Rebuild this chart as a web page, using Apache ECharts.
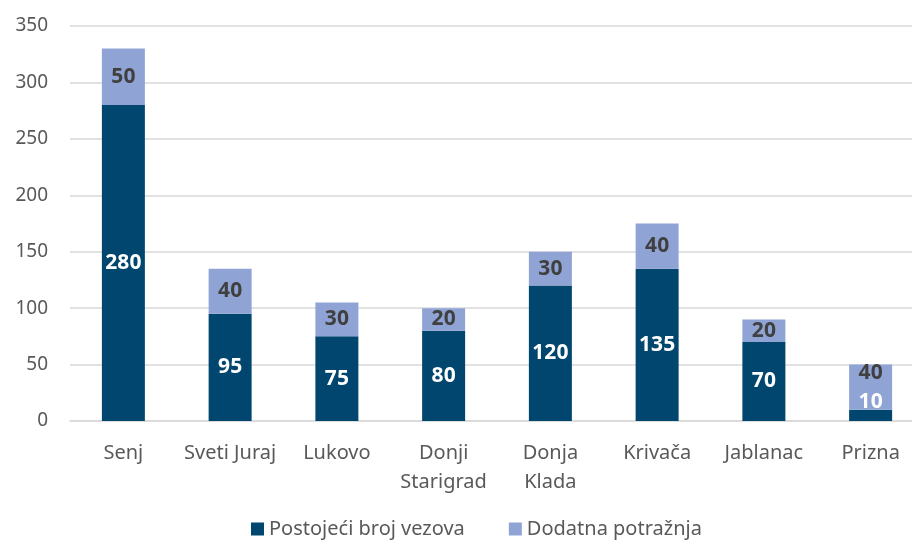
<!DOCTYPE html>
<html>
<head>
<meta charset="utf-8">
<script src="https://cdn.jsdelivr.net/npm/echarts@6/dist/echarts.min.js"></script>
<style>
  html, body { margin: 0; padding: 0; background: #fff; }
  #chart { width: 912px; height: 546px; }
</style>
</head>
<body>
<div id="chart"></div>
<script>
// luke i broj vezova
const categories = ['Senj', 'Sveti Juraj', 'Lukovo', 'Donji\nStarigrad', 'Donja\nKlada', 'Krivača', 'Jablanac', 'Prizna'];
const postojeci = [280, 95, 75, 80, 120, 135, 70, 10];
const dodatna = [50, 40, 30, 20, 30, 40, 20, 40];
const seriesNames = ['Postojeći broj vezova', 'Dodatna potražnja'];

const font = 'Noto Sans';
const chart = echarts.init(document.getElementById('chart'));

// Prizna: tanki segment, oznake pomaknute prema gore kao u Excelu
function withShift(values, dy) {
  return values.map((v, i) => i === values.length - 1 ? { value: v, label: { offset: [0, dy] } } : v);
}

chart.setOption({
  animation: false,
  textStyle: { fontFamily: font },
  grid: { left: 70, top: 26, right: -12, height: 395, outerBoundsMode: 'none', containLabel: false },
  legend: {
    bottom: 2,
    left: 246,
    itemWidth: 13,
    itemHeight: 13,
    itemGap: 44,
    icon: 'rect',
    textStyle: { fontSize: 20, color: '#595959', fontFamily: font },
    data: seriesNames
  },
  xAxis: {
    type: 'category',
    data: categories,
    axisLine: { lineStyle: { color: '#d9d9d9', width: 1.5 } },
    axisTick: { show: false },
    axisLabel: { color: '#595959', fontSize: 20, lineHeight: 29, margin: 18, interval: 0 }
  },
  yAxis: {
    type: 'value',
    min: 0,
    max: 350,
    interval: 50,
    axisLine: { show: false },
    axisTick: { show: false },
    splitLine: { lineStyle: { color: '#d9d9d9', width: 1.5 } },
    axisLabel: { color: '#595959', fontSize: 19, margin: 22 }
  },
  series: [
    {
      name: seriesNames[0],
      type: 'bar',
      stack: 'a',
      barWidth: 43,
      data: withShift(postojeci, -13),
      itemStyle: { color: '#00466f' },
      label: { show: true, position: 'inside', color: '#fff', fontWeight: 'bold', fontSize: 21 }
    },
    {
      name: seriesNames[1],
      type: 'bar',
      stack: 'a',
      barWidth: 43,
      data: withShift(dodatna, -14),
      itemStyle: { color: '#8fa3d4' },
      label: { show: true, position: 'inside', color: '#404040', fontWeight: 'bold', fontSize: 21 }
    }
  ]
});
</script>
</body>
</html>
